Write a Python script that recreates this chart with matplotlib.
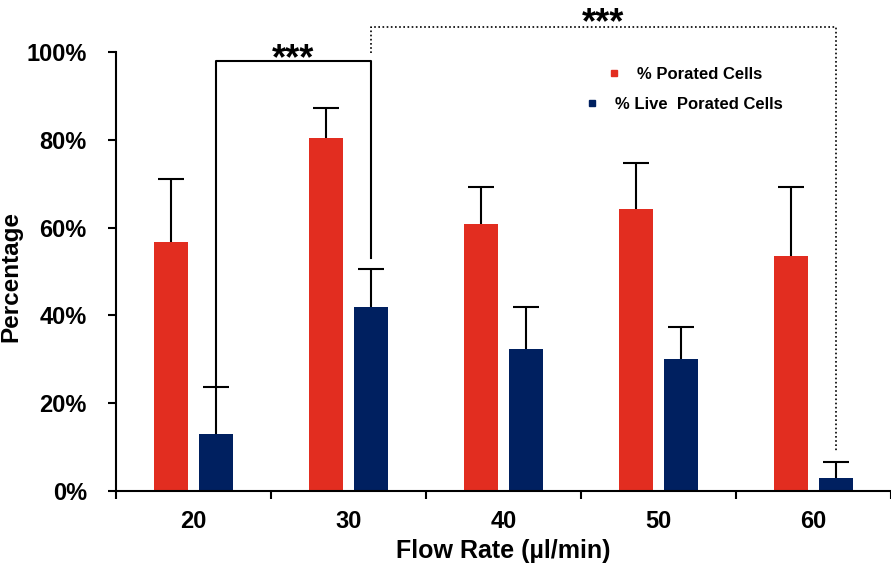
import matplotlib
matplotlib.use("Agg")
import matplotlib.pyplot as plt
import numpy as np

plt.rcParams['font.family'] = ['Liberation Sans', 'DejaVu Sans']

categories = ["20", "30", "40", "50", "60"]
porated = [56.7, 80.4, 60.8, 64.2, 53.5]
porated_err = [14.4, 6.8, 8.4, 10.5, 15.7]
live = [13.0, 41.9, 32.3, 30.1, 3.0]
live_err = [10.7, 8.7, 9.6, 7.3, 3.6]
yticks = [0, 20, 40, 60, 80, 100]

red = "#E22D20"
navy = "#002060"

fig = plt.figure(figsize=(8.91, 5.74), dpi=100)
ax = fig.add_axes([116/891, 1-491/574, 1-116/891, (491-52)/574])

x = np.arange(len(categories))
w = 0.225
off = 0.145
ax.bar(x - off, porated, w, color=red, zorder=2)
ax.bar(x + off, live, w, color=navy, zorder=2)
for xs, vals, errs in [(x - off, porated, porated_err), (x + off, live, live_err)]:
    _, caps, _ = ax.errorbar(xs, vals, yerr=[np.zeros(len(vals)), errs], fmt='none',
                             ecolor='black', elinewidth=1.5, capsize=9.5,
                             capthick=1.5, zorder=3)
    caps[0].set_visible(False)

# legend (two centred single-entry legends)
h1, = ax.plot([], [], 's', color=red, markersize=4, label="% Porated Cells")
h2, = ax.plot([], [], 's', color=navy, markersize=4, label="% Live  Porated Cells")
leg_kw = dict(loc='center', frameon=False, prop={'weight': 'bold', 'size': 12},
              handlelength=1.0, handletextpad=0.9, borderpad=0.0,
              bbox_transform=fig.transFigure)
leg1 = ax.legend(handles=[h1], bbox_to_anchor=(684/891, 1-74/574), **leg_kw)
ax.add_artist(leg1)
ax.legend(handles=[h2], bbox_to_anchor=(683/891, 1-104/574), **leg_kw)

ax.set_xlim(-0.5, 4.48)
ax.set_ylim(0, 100)
ax.set_yticks(yticks)
ax.set_yticklabels([f"{v}%" for v in yticks])
ax.set_xticks(x)
ax.set_xticklabels(categories)
ax.set_xticks(np.arange(-0.5, 5, 1.0), minor=True)
ax.tick_params(axis='x', which='major', length=0, pad=14, labelsize=17)
ax.tick_params(axis='x', which='minor', length=6, width=1.5, direction='out')
ax.tick_params(axis='y', length=6, width=1.5, direction='out', labelsize=17, pad=15)
for lab in ax.get_xticklabels() + ax.get_yticklabels():
    lab.set_fontweight('bold')

for s in ['top', 'right']:
    ax.spines[s].set_visible(False)
for s in ['left', 'bottom']:
    ax.spines[s].set_linewidth(1.5)

ax.set_xlabel("Flow Rate (µl/min)", fontsize=18, fontweight='bold', labelpad=4)
ax.set_ylabel("Percentage", fontsize=17.5, fontweight='bold')
ax.yaxis.set_label_coords((22 - 116) / 775, (491 - 277) / 439)

# significance brackets
xl1, xr1 = 0 + off, 1 + off
ax.plot([xl1, xl1, xr1, xr1], [24.1, 98, 98, 53], color='black', lw=1.5,
        clip_on=False, zorder=4)
ax.text((xl1 + xr1) / 2, 96.0, "***", ha='center', va='baseline', fontsize=26,
        fontweight='bold')

xl2, xr2 = 1 + off, 4 + off
ax.plot([xl2, xl2, xr2, xr2], [99.8, 105.7, 105.7, 9.1], color='black', lw=1.2,
        ls=(0, (1, 1.5)), clip_on=False, zorder=4)
ax.text((xl2 + xr2) / 2, 104.3, "***", ha='center', va='baseline',
        fontsize=26, fontweight='bold', clip_on=False)

fig.savefig("out.png", dpi=100)
